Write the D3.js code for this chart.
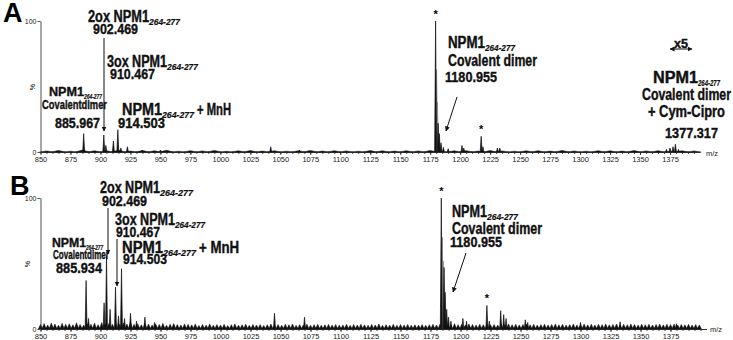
<!DOCTYPE html>
<html>
<head>
<meta charset="utf-8">
<script src="https://cdn.jsdelivr.net/npm/d3@7"></script>
<style>
  body { margin: 0; background: #fff; }
  text { font-family: "Liberation Sans", Arial, sans-serif; }
</style>
</head>
<body>
<div id="chart"></div>
<script>
// x tick labels (m/z)
const xTickLabels = [850, 875, 900, 925, 950, 975, 1000, 1025, 1050, 1075, 1100, 1125, 1150,
  1175, 1200, 1225, 1250, 1275, 1300, 1325, 1350, 1375];
const yTickLabels = [0, 100];

// panel A peaks (m/z, relative intensity %)
const aPeakMz  = [886, 902.8, 904.5, 910.8, 914.5, 917, 922.5, 935, 950, 1042, 1066,
  1179.5, 1181.6, 1182.6, 1184, 1186, 1190, 1201.5, 1203, 1217.5, 1219, 1231, 1233,
  1372, 1375, 1377.5, 1379.5, 1382];
const aPeakInt = [14, 13, 5, 8.4, 17, 3, 4, 1.5, 1.5, 4, 1.5,
  100, 22, 14, 7, 3.5, 2.5, 5, 3, 12, 4, 3, 3,
  2, 3, 4, 6, 2];
const aGrayMz  = [1180.3, 1181.0];
const aGrayInt = [63, 38];
// panel A baseline noise, one value every 10 m/z from 855
const aNoise = [0.8, 1.2, 0.6, 1.5, 0.9, 1.0, 1.4, 0.7, 1.1, 0.9, 1.3, 0.6, 1.0, 0.8, 1.2, 0.5,
  0.9, 1.1, 0.7, 1.0, 0.6, 0.9, 1.2, 0.7, 1.0, 0.8, 0.6, 1.1, 0.9, 0.7, 1.0, 0.8, 1.2, 0.6,
  0.9, 1.0, 0.7, 1.1, 0.8, 0.6, 0.9, 1.0, 0.7, 1.2, 0.8, 0.6, 1.0, 0.9, 0.7, 1.1, 0.8, 1.0,
  0.6, 0.9, 0.8];

// panel B peaks
const bPeakMz  = [888, 890, 903, 905, 908, 912.5, 915, 917.5, 920, 925, 930, 937, 945,
  1045, 1070, 1184, 1186.3, 1187.2, 1188.5, 1190, 1192, 1195, 1202, 1205, 1222, 1224,
  1233.5, 1236, 1238, 1254, 1256, 1300, 1333, 1380];
const bPeakInt = [37, 8, 20, 56, 15, 32, 10, 46, 8, 12, 6, 9, 5,
  12, 9, 100, 47, 28, 15, 9, 6, 4, 8, 6, 18, 6,
  14, 11, 8, 7, 5, 5, 5.5, 4];
const bGrayMz  = [1184.8, 1185.6];
const bGrayInt = [70, 52];
// panel B baseline noise, one value every 3 m/z from 850
const bNoise = [
  3.5, 4.2, 3.0, 4.6, 3.8, 2.9, 4.4, 3.6, 4.0, 3.2, 4.8, 3.5, 3.0, 4.1, 3.7, 4.5, 3.3, 4.9, 3.8, 4.2, 3.6,
  4.0, 3.4, 4.6, 3.9, 5.2, 3.6, 4.1, 3.3, 4.4, 3.8, 3.1, 4.0, 3.5, 4.3, 2.9, 3.7, 4.2, 3.4, 3.0, 3.9, 3.6,
  3.2, 3.8, 2.7, 3.5, 3.0, 3.9, 2.8, 3.4, 3.1, 3.6, 2.6, 3.3, 3.9, 2.9, 3.2, 3.7, 2.8, 3.5, 3.0, 3.4, 2.7,
  3.3, 3.8, 3.0, 3.5, 2.9, 3.6, 3.2, 3.9, 2.8, 3.4, 3.1, 3.7, 2.9, 3.3, 3.6, 2.8, 3.2, 3.5, 3.0, 3.4, 2.9,
  3.1, 3.6, 2.8, 3.4, 3.0, 3.7, 3.2, 2.9, 3.5, 3.1, 3.8, 2.8, 3.3, 3.0, 3.6, 2.9, 3.4, 3.1, 3.5, 2.8, 3.2,
  3.0, 3.4, 2.9, 3.3, 3.6, 3.1, 3.8, 3.2, 3.5, 3.0, 3.7, 3.3, 3.6, 3.0, 3.9, 3.4, 3.1, 3.6, 3.2, 3.8, 3.3,
  3.5, 3.0, 3.7, 3.2, 3.9, 3.3, 3.6, 3.1, 3.5, 3.8, 3.2, 3.6, 3.0, 3.4, 3.7, 3.1, 3.5, 3.9, 3.2, 3.6, 3.0,
  3.4, 3.8, 3.1, 3.5, 3.9, 3.2, 3.7, 3.0, 3.6, 3.3, 3.9, 3.2, 3.5, 3.8, 3.1, 3.6, 3.3, 3.9, 3.4, 3.0, 3.7,
  3.3, 3.6, 3.1, 3.5, 3.8, 3.2, 3.7, 3.4, 3.9, 3.1, 3.5, 3.2, 3.6, 3.0, 3.4, 3.1];

const W = 733, H = 340;
const svg = d3.select("#chart").append("svg")
  .attr("width", W).attr("height", H);

const defs = svg.append("defs");
defs.append("marker").attr("id", "ah")
  .attr("viewBox", "0 0 10 10").attr("refX", 9).attr("refY", 5)
  .attr("markerWidth", 5).attr("markerHeight", 6)
  .attr("orient", "auto-start-reverse")
  .append("path").attr("d", "M0,0L10,5L0,10z").attr("fill", "#111");

// text helper: parts = [text, width, size, subscript, gapBefore]
function label(g, x, y, parts) {
  let cx = x;
  parts.forEach(p => {
    const [txt, w, size, sub, gap] = p;
    cx += gap || 0;
    g.append("text")
      .attr("x", cx).attr("y", y + (sub ? 3 : 0))
      .attr("font-size", size).attr("font-weight", "bold")
      .attr("font-style", sub ? "italic" : "normal")
      .attr("fill", "#111").attr("stroke", "#111").attr("stroke-width", sub ? 0.2 : 0.4)
      .attr("textLength", w).attr("lengthAdjust", "spacingAndGlyphs")
      .text(txt);
    cx += w;
  });
}

function drawPanel(cfg) {
  const g = svg.append("g");
  const x = d3.scaleLinear().domain([850, cfg.xMax]).range([40.5, cfg.xEnd]);
  const y = d3.scaleLinear().domain([0, 100]).range([cfg.y0, cfg.y100]);
  const line = d3.line().x(d => x(d[0])).y(d => y(d[1]));
  const tri = (mz, h, w) => [[mz - w, 0], [mz, h], [mz + w, 0]];

  // noise
  g.selectAll(".noise").data(cfg.noise).join("path")
    .attr("d", (d, i) => line(tri(cfg.noiseStart + i * cfg.noiseStep, d, cfg.noiseStep * 0.6)))
    .attr("fill", "#111").attr("stroke", "#111").attr("stroke-width", 0.5);

  // gray isotope envelope
  g.selectAll(".gray").data(d3.zip(cfg.grayMz, cfg.grayInt)).join("path")
    .attr("d", d => line(tri(d[0], d[1], 1.0)))
    .attr("fill", "#8c8c8c").attr("stroke", "#8c8c8c").attr("stroke-width", 0.8);

  // peaks
  g.selectAll(".peak").data(d3.zip(cfg.peakMz, cfg.peakInt)).join("path")
    .attr("d", d => line(tri(d[0], d[1], 0.8)))
    .attr("fill", "#111").attr("stroke", "#111").attr("stroke-width", 0.7);

  // x axis: major and minor ticks
  const xa = g.append("g").attr("transform", `translate(0,${cfg.y0})`)
    .call(d3.axisBottom(x).tickValues(xTickLabels).tickSize(3).tickSizeOuter(0)
      .tickPadding(2).tickFormat(d3.format("d")));
  g.append("g").attr("transform", `translate(0,${cfg.y0})`)
    .call(d3.axisBottom(x).tickValues(d3.range(850, cfg.xMax, 5)).tickSize(2).tickSizeOuter(0).tickFormat(""));
  xa.selectAll("text").attr("font-size", 7.5).attr("font-family", "Liberation Sans, Arial, sans-serif").attr("fill", "#222");
  g.selectAll(".domain, .tick line").attr("stroke", "#222").attr("stroke-width", 0.8);

  // y axis
  const ya = g.append("g").attr("transform", `translate(40.5,0)`)
    .call(d3.axisLeft(y).tickValues(yTickLabels).tickSize(3).tickSizeOuter(0).tickPadding(1));
  ya.selectAll("text").attr("font-size", 7).attr("font-family", "Liberation Sans, Arial, sans-serif").attr("fill", "#222");
  ya.selectAll(".domain, .tick line").attr("stroke", "#222").attr("stroke-width", 0.8);

  g.append("text").attr("x", cfg.pctX).attr("y", cfg.pctY).attr("font-size", 7)
    .attr("transform", `rotate(-90,${cfg.pctX},${cfg.pctY})`).attr("text-anchor", "middle").text("%");
  g.append("text").attr("x", cfg.mzX).attr("y", cfg.mzY).attr("font-size", 7.5).attr("fill", "#222").text("m/z");

  // panel letter
  g.append("text").attr("x", cfg.letterX).attr("y", cfg.letterY)
    .attr("font-size", 27).attr("font-weight", "bold").text(cfg.letter);

  // asterisks
  cfg.stars.forEach(s => {
    g.append("text").attr("x", x(s[0])).attr("y", y(s[1]) - 3)
      .attr("text-anchor", "middle").attr("font-size", 11).attr("font-weight", "bold").text("*");
  });

  cfg.labels.forEach(l => label(g, l.x, l.y, l.parts));

  cfg.arrows.forEach(a => {
    g.append("line").attr("x1", a[0]).attr("y1", a[1]).attr("x2", a[2]).attr("y2", a[3])
      .attr("stroke", "#111").attr("stroke-width", 1)
      .attr("marker-end", "url(#ah)")
      .attr("marker-start", a[4] ? "url(#ah)" : null);
  });
  return g;
}

const SUB = "264-277";

drawPanel({
  letter: "A", letterX: 3, letterY: 22,
  xMax: 1400, xEnd: 700, y0: 152, y100: 21,
  pctX: 35, pctY: 87, mzX: 706, mzY: 156,
  noise: aNoise, noiseStart: 855, noiseStep: 10,
  peakMz: aPeakMz, peakInt: aPeakInt, grayMz: aGrayMz, grayInt: aGrayInt,
  stars: [[1179.5, 100], [1217.5, 12]],
  labels: [
    { x: 88, y: 22, parts: [["2ox NPM1", 61, 16], [SUB, 31, 9, true]] },
    { x: 93, y: 34, parts: [["902.469", 45, 15]] },
    { x: 107, y: 67, parts: [["3ox NPM1", 60, 16], [SUB, 31, 9, true]] },
    { x: 110, y: 79, parts: [["910.467", 45, 15]] },
    { x: 49, y: 96, parts: [["NPM1", 35, 13], [SUB, 18, 7, true]] },
    { x: 42, y: 109, parts: [["Covalentdimer", 65, 13]] },
    { x: 55, y: 128, parts: [["885.967", 45, 15]] },
    { x: 122, y: 115, parts: [["NPM1", 40, 16], [SUB, 32, 9, true], ["+ MnH", 34, 16, false, 3]] },
    { x: 118, y: 128, parts: [["914.503", 47, 15]] },
    { x: 448, y: 48, parts: [["NPM1", 37, 16], [SUB, 30, 9, true]] },
    { x: 448, y: 66, parts: [["Covalent dimer", 89, 16]] },
    { x: 445, y: 82, parts: [["1180.955", 52, 15]] },
    { x: 674, y: 48, parts: [["x5", 14, 12]] },
    { x: 653, y: 83, parts: [["NPM1", 45, 16], [SUB, 22, 9, true]] },
    { x: 642, y: 100, parts: [["Covalent dimer", 89, 16]] },
    { x: 648, y: 117, parts: [["+ Cym-Cipro", 77, 16]] },
    { x: 665, y: 138, parts: [["1377.317", 53, 15]] }
  ],
  arrows: [[104, 38, 104, 131], [457, 97, 446, 131], [670, 49, 692, 49, true]]
});

drawPanel({
  letter: "B", letterX: 10, letterY: 195,
  xMax: 1405, xEnd: 706.5, y0: 329, y100: 198,
  pctX: 30, pctY: 264, mzX: 710, mzY: 332,
  noise: bNoise, noiseStart: 850, noiseStep: 3,
  peakMz: bPeakMz, peakInt: bPeakInt, grayMz: bGrayMz, grayInt: bGrayInt,
  stars: [[1184, 100], [1222, 18]],
  labels: [
    { x: 100, y: 193, parts: [["2ox NPM1", 60, 16], [SUB, 33, 9, true]] },
    { x: 102, y: 206, parts: [["902.469", 45, 15]] },
    { x: 115, y: 225, parts: [["3ox NPM1", 60, 16], [SUB, 30, 9, true]] },
    { x: 116, y: 237, parts: [["910.467", 44, 15]] },
    { x: 122, y: 253, parts: [["NPM1", 41, 16], [SUB, 33, 9, true], ["+ MnH", 40, 16, false, 3]] },
    { x: 123, y: 264, parts: [["914.503", 44, 15]] },
    { x: 52, y: 247, parts: [["NPM1", 34, 13], [SUB, 17, 7, true]] },
    { x: 53, y: 259, parts: [["Covalentdimer", 56, 13]] },
    { x: 56, y: 273, parts: [["885.934", 46, 15]] },
    { x: 452, y: 217, parts: [["NPM1", 35, 16], [SUB, 31, 9, true]] },
    { x: 452, y: 234, parts: [["Covalent dimer", 90, 16]] },
    { x: 450, y: 247, parts: [["1180.955", 52, 15]] }
  ],
  arrows: [[108, 208, 108, 254], [117, 239, 117, 286], [466, 253, 453, 292]]
});
</script>
</body>
</html>
